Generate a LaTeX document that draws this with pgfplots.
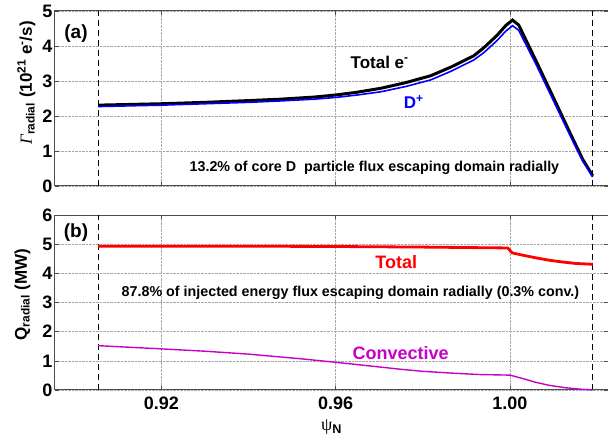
\documentclass[border=0pt]{standalone}
\usepackage{amsmath}
\usepackage{fontspec}
\setmainfont{Liberation Sans}
\newfontfamily\greekserif{Liberation Serif}
\usepackage{pgfplots}
\pgfplotsset{compat=1.18}
\definecolor{mred}{RGB}{255,0,0}
\definecolor{mblue}{RGB}{0,0,255}
\definecolor{mmag}{RGB}{200,0,200}
\newcommand{\tl}[1]{\textbf{#1}}
\pgfplotsset{
  myax/.style={
    scale only axis, width=553pt, height=175pt,
    xmin=0.8956, xmax=1.0225,
    xtick={0.92,0.96,1.00},
    grid=major,
    major grid style={densely dotted, gray!70, line width=0.5pt},
    axis line style={gray!60!black, line width=1pt},
    tick style={gray!60!black, line width=0.6pt},
    tick align=inside,
    major tick length=4pt,
    tick label style={font=\fontsize{18}{18}\selectfont\bfseries},
    yticklabel style={xshift=1pt},
    xticklabel style={yshift=-3pt},
    /pgf/number format/assume math mode=true,
    clip=false,
  },
  vdash/.style={black, dash pattern=on 6pt off 4pt, line width=0.8pt},
}
\begin{document}
\begin{tikzpicture}
% bottom axis
\begin{axis}[myax, at={(0,0)}, anchor=south west,
  ymin=0, ymax=6, ytick={0,1,2,3,4,5,6},
  yticklabels={\tl{0},\tl{1},\tl{2},\tl{3},\tl{4},\tl{5},\tl{6}},
  xticklabels={\tl{0.92},\tl{0.96},\tl{1.00}},
  ylabel={\fontsize{17}{17}\selectfont\bfseries Q\textsubscript{radial} (MW)},
  ylabel style={at={(rel axis cs:0,0.546)}, anchor=base, yshift=28pt},
  xlabel={\fontsize{18}{18}\selectfont{\greekserif ψ}\textsubscript{\bfseries N}},
  xlabel style={at={(rel axis cs:0.5,0)}, anchor=north, yshift=-26pt},
]
\addplot[vdash] coordinates {(0.9055,0) (0.9055,6)};
\addplot[vdash] coordinates {(1.019,0) (1.019,6)};
\addplot[mred, line width=2.8pt] coordinates {
(0.9055,4.93) (0.92,4.93) (0.94,4.93) (0.96,4.92) (0.98,4.90) (0.9995,4.87)
(1.0005,4.70) (1.003,4.62) (1.006,4.53) (1.009,4.45) (1.012,4.39) (1.015,4.34) (1.019,4.31)};
\addplot[mmag, line width=1.4pt] coordinates {
(0.9055,1.52) (0.92,1.41) (0.93,1.33) (0.94,1.23) (0.952,1.07) (0.96,0.95) (0.97,0.79)
(0.975,0.71) (0.98,0.64) (0.9865,0.58) (0.993,0.53) (1.0,0.51) (1.003,0.39) (1.006,0.26)
(1.009,0.16) (1.0126,0.08) (1.016,0.03) (1.019,0.0)};
\node[font=\fontsize{19}{19}\selectfont\bfseries] at (rel axis cs:0.038,0.90) {(b)};
\node[font=\fontsize{18}{18}\selectfont\bfseries, text=mred] at (axis cs:0.9739,4.39) {Total};
\node[font=\fontsize{14.3}{14.3}\selectfont\bfseries] at (axis cs:0.9634,3.34) {87.8\% of injected energy flux escaping domain radially (0.3\% conv.)};
\node[font=\fontsize{18}{18}\selectfont\bfseries, text=mmag] at (axis cs:0.9749,1.25) {Convective};
\end{axis}
% top axis
\begin{axis}[myax, at={(0,204pt)}, anchor=south west,
  ymin=0, ymax=5, ytick={0,1,2,3,4,5},
  yticklabels={\tl{0},\tl{1},\tl{2},\tl{3},\tl{4},\tl{5}},
  xticklabels={},
  ylabel={\fontsize{17}{17}\selectfont{\greekserif\itshape Γ}\textsubscript{\bfseries radial} \textbf{(10\textsuperscript{21} e\textsuperscript{-}/s)}},
  ylabel style={at={(rel axis cs:0,0.589)}, anchor=base, yshift=23pt},
]
\addplot[vdash] coordinates {(0.9055,0) (0.9055,5)};
\addplot[vdash] coordinates {(1.019,0) (1.019,5)};
\addplot[black, line width=3pt] coordinates {
(0.9055,2.31) (0.92,2.35) (0.93,2.39) (0.94,2.44) (0.9473,2.48) (0.955,2.54) (0.96,2.60)
(0.965,2.68) (0.9703,2.79) (0.976,2.95) (0.9818,3.15) (0.9865,3.40) (0.9917,3.72)
(0.994,3.95) (0.997,4.30) (0.999,4.58) (1.0006,4.74) (1.002,4.60) (1.006,3.57)
(1.010,2.52) (1.014,1.46) (1.0167,0.76) (1.019,0.29)};
\addplot[mblue, line width=1.6pt] coordinates {
(0.9055,2.27) (0.92,2.31) (0.93,2.35) (0.94,2.39) (0.9473,2.43) (0.955,2.48) (0.96,2.53)
(0.965,2.60) (0.9703,2.69) (0.976,2.84) (0.9818,3.03) (0.9865,3.28) (0.9917,3.60)
(0.994,3.81) (0.997,4.15) (0.999,4.42) (1.0006,4.58) (1.002,4.45) (1.006,3.47)
(1.010,2.43) (1.014,1.39) (1.0167,0.71) (1.019,0.26)};
\node[font=\fontsize{19}{19}\selectfont\bfseries] at (rel axis cs:0.038,0.871) {(a)};
\node[font=\fontsize{17}{17}\selectfont\bfseries] at (axis cs:0.9701,3.54) {Total e\textsuperscript{-}};
\node[font=\fontsize{17}{17}\selectfont\bfseries, text=mblue] at (axis cs:0.9779,2.41) {D\textsuperscript{+}};
\node[font=\fontsize{14.3}{14.3}\selectfont\bfseries] at (axis cs:0.9689,0.51) {13.2\% of core D\ \ particle flux escaping domain radially};
\end{axis}
\pgfresetboundingbox
\useasboundingbox (-55pt,-51pt) rectangle (553pt,390pt);
\end{tikzpicture}
\end{document}
